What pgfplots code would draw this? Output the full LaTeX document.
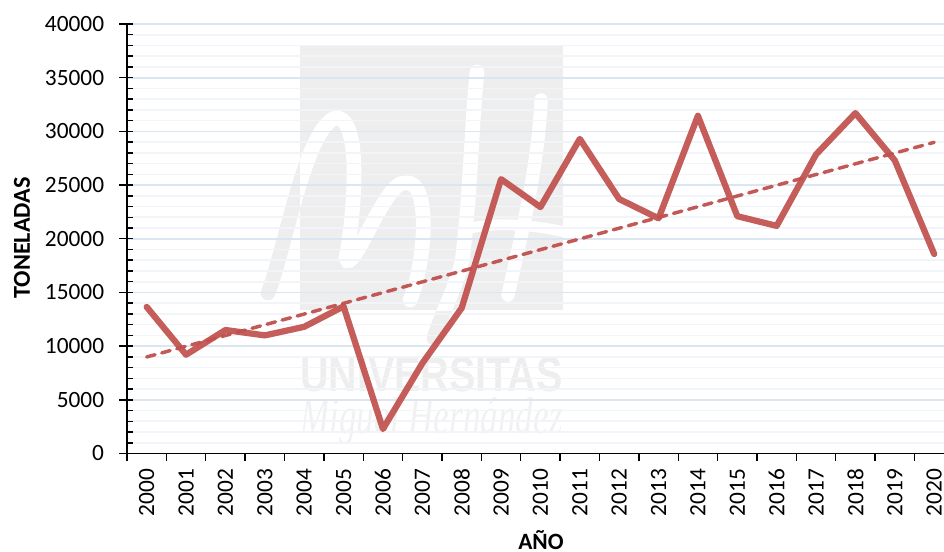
\documentclass[border=0pt]{standalone}
\usepackage{fontspec}
\usepackage{graphicx}
\setmainfont{Carlito}
\newfontfamily\wmsans{Liberation Sans}
\newfontfamily\wmserif{Liberation Serif}
\usepackage{pgfplots}
\pgfplotsset{compat=1.18}
\definecolor{linered}{HTML}{C0504D}
\definecolor{majgrid}{HTML}{DCE6F2}
\definecolor{mingrid}{HTML}{F1F5FA}
\definecolor{wm}{HTML}{EFEEEE}
\begin{document}
\begin{tikzpicture}
\useasboundingbox (0,0) rectangle (708pt,413.25pt);
\clip (0,0) rectangle (708pt,413.25pt);
% watermark (pixel coordinates, origin top left)
\begin{scope}[x=0.75pt,y=-0.75pt,yshift=413.25pt]
  \def\strokeA{(268,293) .. controls (285,250) and (305,130) .. (335,118) .. controls (365,115) and (352,230) .. (346,258) .. controls (352,278) and (385,180) .. (405,183) .. controls (432,178) and (425,265) .. (410,300)}
  \def\strokeB{(477,72) .. controls (472,120) and (470,200) .. (462,262) .. controls (455,290) and (442,312) .. (434,338)}
  \def\strokeC{(541,100) .. controls (538,170) and (520,240) .. (508,295)}
  \def\strokeD{(468,229) .. controls (490,222) and (530,224) .. (565,232)}
  \draw[wm,line width=11pt,line cap=round] \strokeA;
  \draw[wm,line width=11pt,line cap=round] \strokeB;
  \fill[wm] (300,45) rectangle (563,310);
  \begin{scope}
    \clip (300,45) rectangle (563,310);
    \draw[white,line width=11pt,line cap=round] \strokeA;
    \draw[white,line width=11pt,line cap=round] \strokeB;
    \draw[white,line width=10pt,line cap=round] \strokeC;
    \draw[white,line width=8pt] \strokeD;
  \end{scope}
  \node[inner sep=0,text=wm] at (431.5,375) {\resizebox{197pt}{25.5pt}{\wmsans\bfseries UNIVERSITAS}};
  \node[inner sep=0,text=wm!80!white] at (431.5,421.5) {\resizebox{197pt}{27pt}{\wmserif\itshape Miguel Hernández}};
\end{scope}
\begin{axis}[
  at={(95.25pt,73.125pt)},anchor=south west,
  scale only axis,width=612.75pt,height=322.125pt,
  xmin=1999.5,xmax=2020.25,ymin=0,ymax=40000,
  axis x line=bottom,axis y line=left,
  axis line style={-,black,line width=1.1pt},
  clip=true,
  axis on top=false,
  scaled y ticks=false,
  /pgf/number format/assume math mode=true,
  /pgf/number format/1000 sep={},
  xtick={1999.5,2000.5,...,2019.5},
  xticklabels={},
  extra x ticks={2000,2001,2002,2003,2004,2005,2006,2007,2008,2009,2010,2011,2012,2013,2014,2015,2016,2017,2018,2019,2020},
  extra x tick style={major tick length=0pt,xticklabel style={rotate=90,anchor=east,font=\fontsize{17.5}{20}\selectfont,/pgf/number format/assume math mode=true,/pgf/number format/1000 sep={},xshift=-8pt}},
  ytick={0,5000,...,40000},
  minor y tick num=4,
  ymajorgrids,yminorgrids,
  major grid style={majgrid,line width=1.3pt},
  minor grid style={mingrid,line width=1.2pt},
  tick style={black,line width=1.1pt},
  tick align=inside,
  ytick pos=left,xtick pos=bottom,
  major tick length=10.5pt,minor tick length=4.5pt,
  major y tick style={xshift=-6pt},
  major x tick style={yshift=-5.6pt,dash pattern=on 5.6pt off 6pt},
  yticklabel style={/pgf/number format/fixed,font=\fontsize{17.5}{20}\selectfont,xshift=-17pt,inner sep=0pt},
  xlabel={\textbf{AÑO}},ylabel={\textbf{TONELADAS}},
  x label style={at={(axis description cs:0.5066,0)},anchor=center,yshift=-65pt,font=\fontsize{17.5}{20}\selectfont},
  y label style={at={(axis description cs:0,0.5017)},anchor=center,yshift=78.75pt,font=\fontsize{18.2}{20}\selectfont},
]
\addplot[linered,line width=2.6pt,line cap=round,dash pattern=on 6.5pt off 5.2pt,opacity=0.95] coordinates {(2000,8990) (2020,28980)};
\addplot[linered,line width=4.7pt,line cap=round,line join=round,opacity=0.92] coordinates {
(2000,13650)(2001,9200)(2002,11500)(2003,11000)(2004,11800)(2005,13700)(2006,2280)(2007,8400)(2008,13550)(2009,25550)(2010,22950)(2011,29300)(2012,23700)(2013,21900)(2014,31450)(2015,22100)(2016,21200)(2017,27850)(2018,31700)(2019,27300)(2020,18580)};
\end{axis}
\end{tikzpicture}
\end{document}
